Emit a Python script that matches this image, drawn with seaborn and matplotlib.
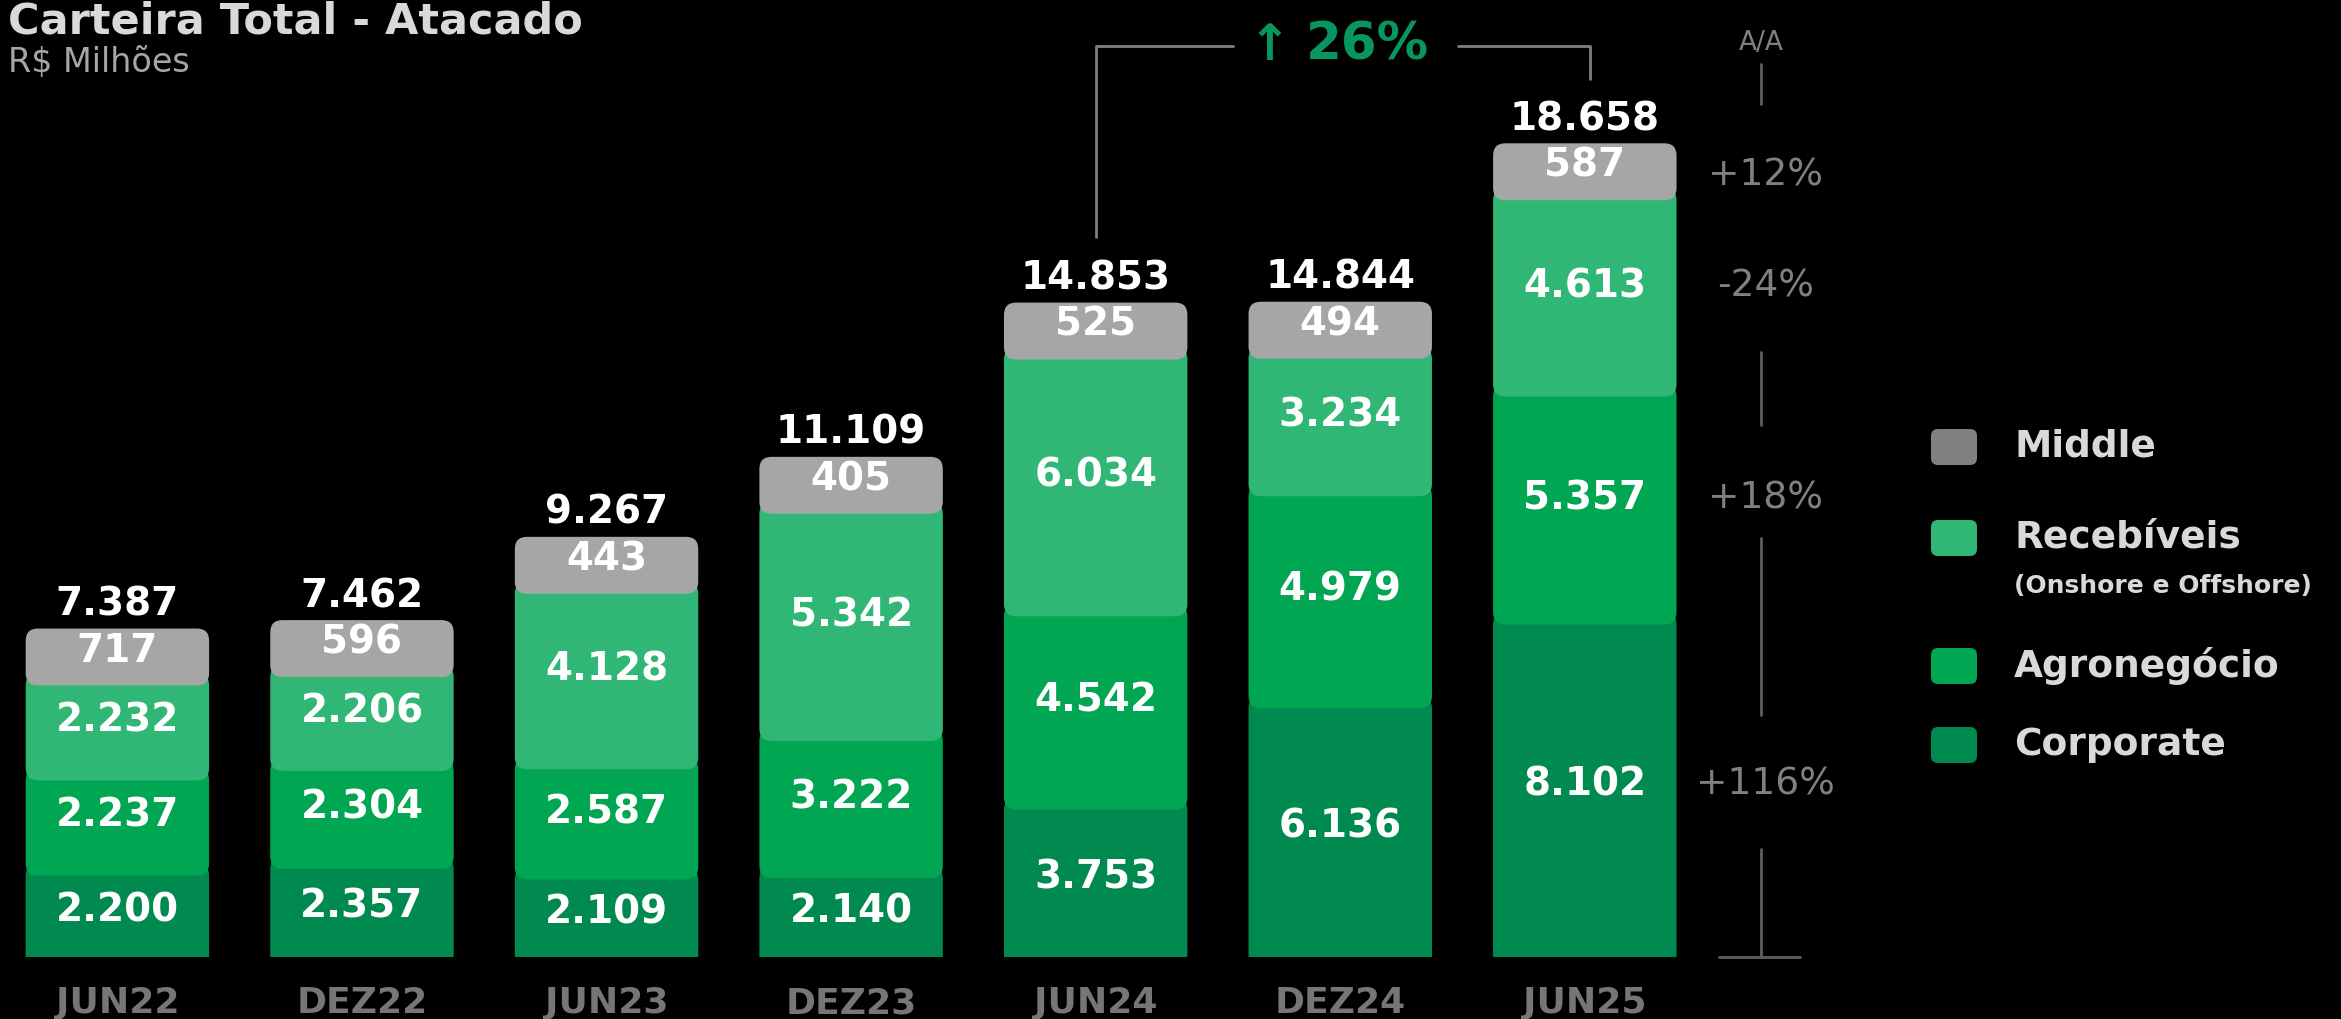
import matplotlib
matplotlib.use("Agg")
import matplotlib.pyplot as plt
import matplotlib.transforms as mtransforms
from matplotlib.patches import FancyBboxPatch
import numpy as np
import seaborn as sns

# dados (R$ milhões)
periodos = ["JUN22", "DEZ22", "JUN23", "DEZ23", "JUN24", "DEZ24", "JUN25"]
corporate = [2200, 2357, 2109, 2140, 3753, 6136, 8102]
agro = [2237, 2304, 2587, 3222, 4542, 4979, 5357]
recebiveis = [2232, 2206, 4128, 5342, 6034, 3234, 4613]
middle = [717, 596, 443, 405, 525, 494, 587]
totais = [7387, 7462, 9267, 11109, 14853, 14844, 18658]
# variação A/A na ordem: Middle, Recebíveis, Agronegócio, Corporate
var_aa = ["+12%", "-24%", "+18%", "+116%"]
crescimento = "26%"

cores = {"Middle": "#A6A6A6", "Recebíveis": "#30B776",
         "Agronegócio": "#00A651", "Corporate": "#008A50"}

W, H = 2341, 1019
BASE = 957          # linha de base em pixels (a partir do topo)
UPP = 23.5          # unidades de dado por pixel (eixo y)
CAP = 1050          # altura visual fixa da tampa "Middle"

sns.set_theme(style="white")
plt.rcParams["font.family"] = ["DejaVu Sans"]

fig = plt.figure(figsize=(W / 100, H / 100), dpi=100, facecolor="black")
ax = fig.add_axes([0, (H - BASE) / H, 1712 / W, BASE / H])
ax.set_facecolor("black")

def fmt(v):
    return f"{v:,}".replace(",", ".")

def ypx(p):
    return (BASE - p) * UPP

c1 = np.array(corporate, dtype=float)
c2 = c1 + np.array(agro)
c3 = c2 + np.array(recebiveis)
c4 = c3 + CAP

camadas = [("Middle", c3, c4, 5), ("Recebíveis", c2, c3, 4),
           ("Agronegócio", c1, c2, 3), ("Corporate", np.zeros(7), c1, 2)]

aspect = UPP * 244.6
r = 0.05
for nome, base, topo, z in camadas:
    n0 = len(ax.patches)
    sns.barplot(x=periodos, y=topo, color=cores[nome], saturation=1,
                width=0.75, ax=ax)
    novos = list(ax.patches[n0:])
    for p, b, t in zip(novos, base, topo):
        x, w = p.get_x(), p.get_width()
        p.set_visible(False)
        y0 = b - r * aspect
        box = FancyBboxPatch((x, y0), w, t - y0,
                             boxstyle=f"round,pad=0,rounding_size={r}",
                             mutation_aspect=aspect, fc=cores[nome],
                             ec="none", zorder=z)
        ax.add_patch(box)

# rótulos dos segmentos
lab = dict(color="white", fontsize=28, fontweight="bold", ha="center",
           va="center", zorder=10)
for i in range(7):
    ax.text(i, c1[i] / 2, fmt(corporate[i]), **lab)
    ax.text(i, (c1[i] + c2[i]) / 2, fmt(agro[i]), **lab)
    ax.text(i, (c2[i] + c3[i]) / 2, fmt(recebiveis[i]), **lab)
    ax.text(i, (c3[i] + c4[i]) / 2, fmt(middle[i]), **lab)
    ax.text(i, c4[i] + 24 * UPP, fmt(totais[i]), **lab)

ax.set_xlim(-0.48, 6.52)
ax.set_ylim(0, BASE * UPP)
ax.set_yticks([])
ax.set_ylabel("")
for s in ax.spines.values():
    s.set_visible(False)
ax.tick_params(axis="x", length=0, pad=21, labelsize=26, labelcolor="#767676")
for t in ax.get_xticklabels():
    t.set_fontweight("bold")

# colchete de crescimento JUN24 -> JUN25
ytop = ypx(46)
lc = "#7F7F7F"
ax.plot([4, 4, 4.56], [c4[4] + 66 * UPP, ytop, ytop], color=lc, lw=2, clip_on=False)
ax.plot([5.48, 6.02, 6.02], [ytop, ytop, c4[6] + 64 * UPP], color=lc, lw=2, clip_on=False)
verde = "#08965F"
ax.text(4.71, ytop, "↑", color=verde, fontsize=36, fontweight="bold",
        ha="center", va="center")
ax.text(5.11, ytop, crescimento, color=verde, fontsize=37, fontweight="bold",
        ha="center", va="center")

# coluna A/A
x_aa = 6.72
gc = "#808080"
ax.text(x_aa, ypx(43), "A/A", color=gc, fontsize=19, ha="center", va="center",
        clip_on=False)
centros = [(c3[6] + c4[6]) / 2 - 10 * UPP, (c2[6] + c3[6]) / 2,
           (c1[6] + c2[6]) / 2, c1[6] / 2]
for y, s in zip(centros, var_aa):
    ax.text(x_aa + 0.02, y, s, color=gc, fontsize=27, ha="center", va="center",
            clip_on=False)
lcol = "#5E5E5E"
segs = [(ypx(64), ypx(104)), (centros[1] - 66 * UPP, centros[2] + 73 * UPP),
        (centros[2] - 40 * UPP, centros[3] + 70 * UPP), (centros[3] - 64 * UPP, 0)]
for a, b in segs:
    ax.plot([x_aa, x_aa], [a, b], color=lcol, lw=2, clip_on=False)
ax.plot([x_aa - 0.17, x_aa + 0.16], [0, 0], color=lcol, lw=2, clip_on=False)

# título
fig.text(8 / W, 1 - 34 / H, "Carteira Total - Atacado", color="#D9D9D9",
         fontsize=31, fontweight="bold", va="baseline")
fig.text(8 / W, 1 - 72 / H, "R$ Milhões", color="#A6A6A6", fontsize=24,
         va="baseline")

# legenda
ident = mtransforms.IdentityTransform()
leg = [("Middle", "#808080", 447), ("Recebíveis", cores["Recebíveis"], 538),
       ("Agronegócio", cores["Agronegócio"], 666), ("Corporate", cores["Corporate"], 745)]
for nome, cor, yc in leg:
    sw = FancyBboxPatch((1931, H - yc - 18), 46, 36,
                        boxstyle="round,pad=0,rounding_size=7",
                        fc=cor, ec="none", transform=ident)
    fig.add_artist(sw)
    fig.text(2014 / W, 1 - yc / H, nome, color="#D9D9D9", fontsize=27,
             fontweight="bold", va="center", ha="left")
fig.text(2014 / W, 1 - 586 / H, "(Onshore e Offshore)", color="#D9D9D9",
         fontsize=18, fontweight="bold", va="center", ha="left")

fig.savefig("out.png", dpi=100, facecolor="black")
